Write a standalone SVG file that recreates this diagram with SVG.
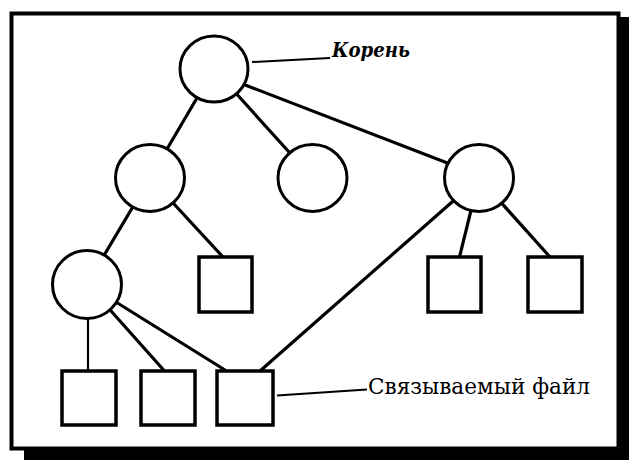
<svg xmlns="http://www.w3.org/2000/svg" width="629" height="460" viewBox="0 0 629 460">
<style>
.n{fill:#fff;stroke:#000;stroke-width:3}
.s{fill:#fff;stroke:#000;stroke-width:3.5}
.c{stroke:#000;stroke-width:3.2;fill:none;stroke-linecap:round}
.l{stroke:#000;stroke-width:2;fill:none}
</style>
<g id="frame">
<rect x="24" y="17" width="605" height="443" fill="#000"/>
<rect x="11.5" y="13.5" width="607" height="435" fill="#fff" stroke="#000" stroke-width="4"/>
</g>
<g id="connectors">
<line class="c" x1="214" y1="69" x2="150" y2="178"/>
<line class="c" x1="214" y1="69" x2="312.5" y2="178"/>
<line class="c" x1="240" y1="83" x2="450" y2="164"/>
<line class="c" x1="150" y1="178" x2="87" y2="284"/>
<line class="c" x1="150" y1="178" x2="223" y2="257"/>
<line class="c" x1="479" y1="178" x2="459.5" y2="257"/>
<line class="c" x1="479" y1="178" x2="550" y2="257"/>
<line class="c" x1="460" y1="195" x2="260" y2="371"/>
<line class="c" x1="88" y1="290" x2="88" y2="371" style="stroke-width:2.2"/>
<line class="c" x1="87" y1="284" x2="164.5" y2="371"/>
<line class="c" x1="87" y1="284" x2="225" y2="370"/>
<line class="l" x1="252" y1="62" x2="330" y2="58"/>
<line class="l" x1="277" y1="395.5" x2="367" y2="389.5"/>
</g>
<g id="root"><ellipse class="n" cx="214" cy="69" rx="34" ry="33"/></g>
<g id="n2a"><ellipse class="n" cx="150" cy="178" rx="34.5" ry="33.5"/></g>
<g id="n2b"><ellipse class="n" cx="312.5" cy="178" rx="34.5" ry="33.5"/></g>
<g id="n2c"><ellipse class="n" cx="479" cy="178" rx="34.5" ry="33.5"/></g>
<g id="n3a"><ellipse class="n" cx="87" cy="284.5" rx="34.5" ry="34"/></g>
<g id="f1"><rect class="s" x="199" y="257" width="53" height="55"/></g>
<g id="f2"><rect class="s" x="428" y="257" width="53" height="55"/></g>
<g id="f3"><rect class="s" x="528" y="257" width="54" height="55"/></g>
<g id="f4"><rect class="s" x="62" y="371" width="54" height="54"/></g>
<g id="f5"><rect class="s" x="141" y="371" width="54" height="54"/></g>
<g id="f6"><rect class="s" x="217" y="371" width="56" height="54"/></g>
<g id="label-root"><text x="332" y="57" font-family="'DejaVu Serif', serif" font-size="21" font-style="italic" font-weight="bold" fill="#000" textLength="78" lengthAdjust="spacingAndGlyphs">Корень</text></g>
<g id="label-file"><text x="368" y="394" font-family="'DejaVu Serif', serif" font-size="21.5" fill="#000" textLength="222" lengthAdjust="spacingAndGlyphs">Связываемый файл</text></g>
</svg>
